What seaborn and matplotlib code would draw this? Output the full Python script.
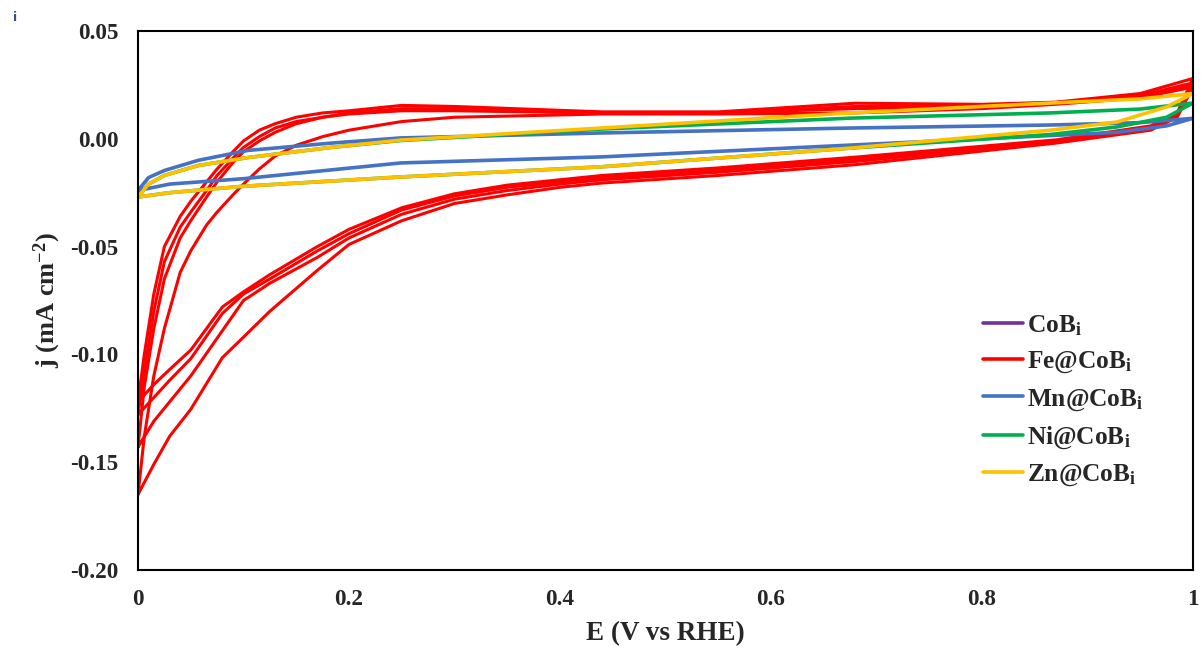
import numpy as np
import pandas as pd
import matplotlib
matplotlib.use('Agg')
import matplotlib.pyplot as plt
from matplotlib.lines import Line2D
from matplotlib.ticker import FuncFormatter
import seaborn as sns

# Fe@CoBi, 4 cycles: anodic (0 -> 1 V) then cathodic (1 -> 0 V)
fe_up_E = [0, 0.006, 0.015, 0.025, 0.04, 0.05, 0.065, 0.075, 0.09, 0.1, 0.115, 0.13, 0.15, 0.175, 0.2, 0.25, 0.3, 0.44, 0.55, 0.68, 0.8, 0.87, 0.95, 1.0]
fe_up_1 = [-0.122, -0.1, -0.072, -0.05, -0.036, -0.029, -0.020, -0.014, -0.006, -0.001, 0.004, 0.007, 0.010, 0.012, 0.013, 0.0155, 0.015, 0.0125, 0.0125, 0.0165, 0.016, 0.017, 0.021, 0.028]
fe_up_2 = [-0.128, -0.108, -0.08, -0.057, -0.041, -0.034, -0.024, -0.017, -0.009, -0.004, 0.001, 0.005, 0.008, 0.010, 0.012, 0.014, 0.014, 0.012, 0.012, 0.015, 0.0155, 0.0168, 0.020, 0.026]
fe_up_3 = [-0.143, -0.115, -0.088, -0.065, -0.046, -0.038, -0.027, -0.020, -0.011, -0.006, -0.001, 0.003, 0.007, 0.010, 0.0115, 0.013, 0.013, 0.012, 0.012, 0.014, 0.015, 0.0165, 0.020, 0.025]
fe_up_4 = [-0.165, -0.138, -0.11, -0.088, -0.062, -0.052, -0.040, -0.034, -0.026, -0.021, -0.014, -0.008, -0.003, 0.001, 0.004, 0.008, 0.010, 0.0115, 0.0115, 0.012, 0.014, 0.016, 0.019, 0.024]

fe_dn_E = [1.0, 0.985, 0.96, 0.87, 0.68, 0.55, 0.44, 0.4, 0.35, 0.3, 0.25, 0.2, 0.17, 0.125, 0.1, 0.08, 0.05, 0.03, 0.015, 0]
fe_dn_1 = [0.028, 0.012, 0.006, -0.0005, -0.0085, -0.0135, -0.017, -0.019, -0.0215, -0.0255, -0.032, -0.042, -0.050, -0.063, -0.071, -0.078, -0.098, -0.107, -0.114, -0.122]
fe_dn_2 = [0.026, 0.011, 0.0055, -0.001, -0.0095, -0.0145, -0.018, -0.020, -0.0225, -0.0265, -0.033, -0.044, -0.052, -0.065, -0.072, -0.081, -0.102, -0.112, -0.12, -0.128]
fe_dn_3 = [0.025, 0.0105, 0.005, -0.0015, -0.0105, -0.0155, -0.019, -0.021, -0.024, -0.028, -0.035, -0.046, -0.055, -0.067, -0.075, -0.089, -0.110, -0.122, -0.131, -0.143]
fe_dn_4 = [0.024, 0.010, 0.004, -0.002, -0.012, -0.017, -0.0205, -0.0225, -0.026, -0.030, -0.038, -0.049, -0.061, -0.080, -0.092, -0.1015, -0.1255, -0.138, -0.151, -0.165]

# Mn, Ni, Zn @CoBi
up_E = [0, 0.01, 0.025, 0.057, 0.104, 0.183, 0.249, 0.439, 0.676, 0.865, 0.95, 1.0]
mn_up = [-0.024, -0.018, -0.0147, -0.010, -0.0054, -0.002, 0.0004, 0.0027, 0.005, 0.0064, 0.0075, 0.0095]
ni_up = [-0.027, -0.021, -0.017, -0.0124, -0.0087, -0.004, -0.0008, 0.0045, 0.0096, 0.012, 0.0138, 0.0166]
zn_up = [-0.027, -0.021, -0.017, -0.0124, -0.0087, -0.004, -0.0006, 0.005, 0.012, 0.0166, 0.0185, 0.021]

dn_E = [1.0, 0.975, 0.928, 0.865, 0.676, 0.439, 0.249, 0.1, 0.03, 0]
mn_dn = [0.0095, 0.006, 0.003, 0.0015, -0.0029, -0.0084, -0.0112, -0.0185, -0.021, -0.024]
ni_dn = [0.0166, 0.010, 0.0055, 0.002, -0.0043, -0.013, -0.0177, -0.022, -0.025, -0.027]
zn_dn = [0.021, 0.0148, 0.0078, 0.004, -0.0043, -0.013, -0.0177, -0.022, -0.025, -0.027]

labels = ['CoB$_\\mathregular{i}$', 'Fe@CoB$_\\mathregular{i}$', 'Mn@CoB$_\\mathregular{i}$',
          'Ni@CoB$_\\mathregular{i}$', 'Zn@CoB$_\\mathregular{i}$']
colors = ['#7030A0', '#FF0000', '#4472C4', '#00B050', '#FFC000']

sns.set_style('white')
plt.rcParams['font.family'] = ['Liberation Serif', 'DejaVu Serif']
plt.rcParams['font.weight'] = 'bold'
plt.rcParams['mathtext.fontset'] = 'custom'
plt.rcParams['mathtext.rm'] = 'Liberation Serif:bold'
plt.rcParams['mathtext.it'] = 'Liberation Serif:bold'
plt.rcParams['mathtext.bf'] = 'Liberation Serif:bold'

fig = plt.figure(figsize=(12.02, 6.5), dpi=100)
ax = fig.add_axes([0.1148, 0.1231, 0.8777, 0.8292])

fe_cycles = [(fe_up_1, fe_dn_1), (fe_up_2, fe_dn_2), (fe_up_3, fe_dn_3), (fe_up_4, fe_dn_4)]
for up, dn in fe_cycles:
    sns.lineplot(x=fe_up_E + fe_dn_E, y=up + dn, sort=False, estimator=None,
                 color=colors[1], lw=2.2, ax=ax)

for up, dn, c in [(mn_up, mn_dn, colors[2]), (ni_up, ni_dn, colors[3]), (zn_up, zn_dn, colors[4])]:
    sns.lineplot(x=up_E + dn_E, y=up + dn, sort=False, estimator=None,
                 color=c, lw=2.6, ax=ax)

ax.set_xlim(0, 1)
ax.set_ylim(-0.20, 0.05)
ax.set_xticks([0, 0.2, 0.4, 0.6, 0.8, 1.0])
ax.set_yticks([-0.20, -0.15, -0.10, -0.05, 0.00, 0.05])
ax.xaxis.set_major_formatter(FuncFormatter(lambda v, p: '%g' % round(v, 2)))
ax.yaxis.set_major_formatter(FuncFormatter(lambda v, p: ('%.2f' % v).replace('-0.00', '0.00')))
ax.tick_params(direction='in', length=6, width=1.5, labelsize=16.7, pad=14)
for lab in ax.get_xticklabels() + ax.get_yticklabels():
    lab.set_fontweight('bold')
for s in ax.spines.values():
    s.set_linewidth(1.5)
    s.set_color('black')

ax.set_xlabel('E (V vs RHE)', fontsize=19.5, fontweight='bold', labelpad=8)
ax.set_ylabel('j (mA cm$^{-2}$)', fontsize=19, fontweight='bold', labelpad=5)

handles = [Line2D([0], [0], color=c, lw=2.6) for c in colors]
ax.legend(handles, labels, loc='upper left', bbox_to_anchor=(0.7886, 0.500),
          frameon=False, handlelength=1.6, handletextpad=0.15,
          labelspacing=0.47, borderpad=0, prop={'weight': 'bold', 'size': 18.3})

fig.text(0.011, 0.967, 'i', fontsize=9, color='#2F4F8F', family='DejaVu Sans')

fig.savefig('out.png', dpi=100)
